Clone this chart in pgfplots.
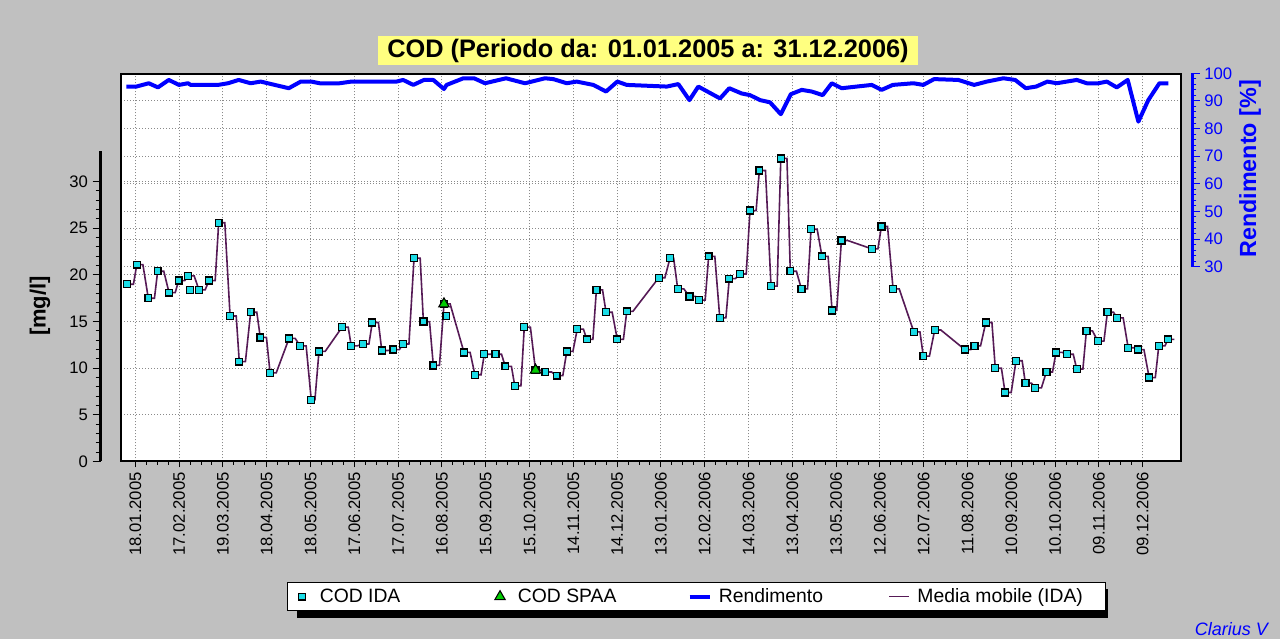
\documentclass[border=0pt]{standalone}
\usepackage{fontspec}
\setmainfont{Liberation Sans}
\usepackage{pgfplots}
\usepackage{pgfplotstable}
\pgfplotsset{compat=1.18}
\definecolor{sfondo}{HTML}{C0C0C0}
\definecolor{giallo}{HTML}{FFFF80}
\definecolor{ciano}{HTML}{1ADCE6}
\definecolor{verde}{HTML}{00CC00}
\definecolor{viola}{HTML}{561A56}
\definecolor{blu}{HTML}{0000FF}
\definecolor{griglia}{HTML}{8A8A8A}

\pgfplotsset{
  img marca/.style={legend image code/.code={\path (0pt,0pt) (15pt,0pt); \draw[##1] plot coordinates {(7.5pt,0pt)};}},
  img linea/.style={legend image code/.code={\draw[##1] (0pt,0pt) -- (15pt,0pt);}},
}

% giorni dal 01.01.2005, COD in mg/l
\pgfplotstableread{
d v
11.5 19.0
18.0 21.1
25.9 17.5
32.3 20.4
40.1 18.1
46.7 19.4
53.1 19.9
54.3 18.4
60.6 18.4
67.5 19.4
74.1 25.6
81.9 15.6
88.2 10.7
96.0 16.0
102.6 13.3
109.3 9.5
122.3 13.2
129.8 12.4
137.5 6.6
142.8 11.8
158.6 14.4
164.9 12.4
172.8 12.6
179.3 14.9
185.8 11.9
193.7 12.0
200.2 12.6
207.9 21.8
214.3 15.0
221.1 10.3
228.4 16.9
230.0 15.6
242.1 11.7
249.6 9.3
256.0 11.5
263.6 11.5
270.4 10.2
276.9 8.1
283.4 14.4
291.1 9.8
297.8 9.6
305.6 9.2
312.5 11.8
319.7 14.2
326.2 13.1
332.8 18.4
339.4 16.0
347.1 13.1
353.6 16.1
375.5 19.7
383.2 21.8
388.5 18.5
396.5 17.7
403.1 17.3
409.7 22.0
417.3 15.4
423.8 19.6
431.2 20.1
438.0 26.9
444.4 31.2
452.4 18.8
459.1 32.5
465.6 20.4
473.2 18.5
479.8 24.9
487.3 22.0
494.2 16.2
500.6 23.7
521.4 22.8
528.0 25.2
536.0 18.5
550.2 13.9
556.7 11.3
564.5 14.1
585.1 12.0
591.7 12.4
599.5 14.9
606.0 10.0
612.7 7.4
620.2 10.8
626.6 8.4
633.4 7.9
641.0 9.6
647.6 11.7
655.2 11.5
661.8 9.9
668.4 14.0
676.2 12.9
682.8 16.0
689.4 15.4
697.0 12.2
703.6 12.0
711.4 9.0
718.0 12.4
724.4 13.1
}\codida

\pgfplotstableread{
d v
228.4 16.9
291.1 9.8
}\codspaa

\pgfplotstableread{
d v
11.5 19.0
15.7 19.0
18.0 21.1
22.2 21.1
25.9 17.5
30.1 17.5
32.3 20.4
36.5 20.4
40.1 18.1
44.3 18.1
46.7 19.4
50.9 19.4
53.1 19.9
57.3 19.9
60.6 18.4
64.8 18.4
67.5 19.4
71.7 19.4
74.1 25.6
78.3 25.6
81.9 15.6
86.1 15.6
88.2 10.7
92.4 10.7
96.0 16.0
100.2 16.0
102.6 13.3
106.8 13.3
109.3 9.5
113.5 9.5
122.3 13.2
126.5 13.2
129.8 12.4
134.0 12.4
137.5 6.6
140.0 6.6
142.8 11.8
147.0 11.8
158.6 14.4
162.8 14.4
164.9 12.4
169.1 12.4
172.8 12.6
177.0 12.6
179.3 14.9
183.5 14.9
185.8 11.9
190.0 11.9
193.7 12.0
197.9 12.0
200.2 12.6
204.4 12.6
207.9 21.8
212.1 21.8
214.3 15.0
218.5 15.0
221.1 10.3
225.3 10.3
228.4 16.9
232.6 16.9
242.1 11.7
246.3 11.7
249.6 9.3
253.8 9.3
256.0 11.5
260.2 11.5
263.6 11.5
267.8 11.5
270.4 10.2
274.6 10.2
276.9 8.1
281.1 8.1
283.4 14.4
287.6 14.4
291.1 9.8
295.3 9.8
297.8 9.6
302.0 9.6
305.6 9.2
309.8 9.2
312.5 11.8
316.7 11.8
319.7 14.2
323.9 14.2
326.2 13.1
330.4 13.1
332.8 18.4
337.0 18.4
339.4 16.0
343.6 16.0
347.1 13.1
351.3 13.1
353.6 16.1
357.8 16.1
375.5 19.7
379.7 19.7
383.2 21.8
385.7 21.8
388.5 18.5
392.7 18.5
396.5 17.7
400.7 17.7
403.1 17.3
407.3 17.3
409.7 22.0
413.9 22.0
417.3 15.4
421.5 15.4
423.8 19.6
428.0 19.6
431.2 20.1
435.4 20.1
438.0 26.9
442.2 26.9
444.4 31.2
448.6 31.2
452.4 18.8
456.6 18.8
459.1 32.5
463.3 32.5
465.6 20.4
469.8 20.4
473.2 18.5
477.4 18.5
479.8 24.9
484.0 24.9
487.3 22.0
491.5 22.0
494.2 16.2
497.4 16.2
500.6 23.7
504.8 23.7
521.4 22.8
525.6 22.8
528.0 25.2
532.2 25.2
536.0 18.5
540.2 18.5
550.2 13.9
554.4 13.9
556.7 11.3
560.9 11.3
564.5 14.1
568.7 14.1
585.1 12.0
589.3 12.0
591.7 12.4
595.9 12.4
599.5 14.9
603.7 14.9
606.0 10.0
610.2 10.0
612.7 7.4
616.9 7.4
620.2 10.8
624.4 10.8
626.6 8.4
630.8 8.4
633.4 7.9
637.6 7.9
641.0 9.6
645.2 9.6
647.6 11.7
651.8 11.7
655.2 11.5
659.4 11.5
661.8 9.9
666.0 9.9
668.4 14.0
672.6 14.0
676.2 12.9
680.4 12.9
682.8 16.0
687.0 16.0
689.4 15.4
693.6 15.4
697.0 12.2
701.2 12.2
703.6 12.0
707.8 12.0
711.4 9.0
715.6 9.0
718.0 12.4
722.2 12.4
724.4 13.1
728.6 13.1
}\mediamobile

% rendimento in %
\pgfplotstableread{
d r
10.8 95.2
17.7 95.2
26.2 96.4
32.5 94.9
39.9 97.6
46.9 95.8
53.1 96.4
54.9 95.8
73.6 95.8
80.5 96.4
87.8 97.6
96.0 96.4
102.9 97.0
112.5 95.8
122.1 94.6
130.3 97.0
137.5 97.0
143.3 96.4
157.0 96.4
164.9 97.0
195.8 97.0
200.4 97.6
207.4 95.8
214.7 97.6
221.1 97.6
228.4 94.3
230.2 95.8
241.7 98.2
249.0 98.2
256.5 96.4
270.9 98.2
283.9 96.4
297.6 98.2
303.3 97.9
312.5 96.4
319.3 97.0
330.7 95.8
339.4 93.4
347.1 97.0
353.6 95.8
381.0 95.2
388.9 96.1
396.5 90.3
402.6 95.2
417.5 90.9
423.8 94.6
432.3 92.7
438.0 92.1
444.9 90.3
451.7 89.5
459.1 85.2
465.9 92.4
473.4 94.0
480.3 93.4
487.8 92.1
494.0 96.4
500.8 94.6
521.4 95.8
528.2 94.0
535.8 95.8
549.9 96.4
556.7 95.8
564.1 97.9
580.7 97.6
591.5 95.8
600.2 97.0
611.5 98.2
619.6 97.6
626.9 94.6
634.0 95.2
641.7 97.0
648.1 96.4
661.8 97.6
668.6 96.4
676.6 96.4
682.4 97.0
689.2 94.9
696.7 97.6
704.0 82.5
710.8 90.3
718.4 96.4
724.5 96.4
}\rendimento

\begin{document}
\begin{tikzpicture}
\begin{scope}
\clip (0,0) rectangle (960pt,479.25pt);
\fill[sfondo] (0,0) rectangle (960pt,479.25pt);
% ombra della legenda
\fill[black] (222.5pt,15.9pt) rectangle (831.3pt,37.8pt);

% asse del rendimento (griglia + linea blu)
\begin{axis}[
  at={(90.98pt,133.13pt)}, anchor=south west,
  scale only axis, width=794.55pt, height=290.85pt,
  xmin=7.4, xmax=733, ymin=-40.5, ymax=99.86,
  axis background/.style={fill=white},
  axis line style={draw=none},
  xtick={17,47,...,707}, ytick={30,40,...,90},
  xticklabels={}, yticklabels={},
  tick style={draw=none},
  xmajorgrids, ymajorgrids,
  grid style={griglia, line width=0.75pt, dash pattern=on 0.75pt off 1.5pt},
]
\addplot[blu, line width=3pt, line join=round] table[x=d,y=r]{\rendimento};
\end{axis}

% asse principale COD
\begin{axis}[
  at={(90.98pt,133.13pt)}, anchor=south west,
  scale only axis, width=794.55pt, height=290.85pt,
  xmin=7.4, xmax=733, ymin=0, ymax=41.58,
  axis line style={black, line width=1.5pt},
  xtick={17,47,...,707},
  xticklabels={18.01.2005,17.02.2005,19.03.2005,18.04.2005,18.05.2005,17.06.2005,17.07.2005,16.08.2005,15.09.2005,15.10.2005,14.11.2005,14.12.2005,13.01.2006,12.02.2006,14.03.2006,13.04.2006,13.05.2006,12.06.2006,12.07.2006,11.08.2006,10.09.2006,10.10.2006,09.11.2006,09.12.2006},
  minor x tick num=3,
  xtick pos=left, tick align=outside,
  xtick style={black, line width=0.75pt},
  major tick length=4.5pt, minor tick length=2.5pt,
  xticklabel style={rotate=90, anchor=east, font=\fontsize{12.5pt}{14pt}\selectfont},
  ytick={5,10,...,30}, yticklabels={}, ytick style={draw=none},
  ymajorgrids,
  grid style={griglia, line width=0.75pt, dash pattern=on 0.75pt off 1.5pt},
  legend columns=4,
  legend cell align=left,
  legend style={at={(axis description cs:0.543,-0.3486)}, anchor=center,
    draw=black, line width=0.9pt, fill=white,
    font=\fontsize{14.5pt}{16pt}\selectfont,
    inner xsep=3pt, inner ysep=3pt,
    nodes={inner sep=0pt, text height=12pt, text depth=3pt},
    /tikz/every odd column/.append style={column sep=5.5pt},
    /tikz/every even column/.append style={column sep=0pt}},
]
\addlegendimage{only marks, mark=square*, mark size=2.6pt, mark options={fill=ciano, draw=black, line width=1pt}, img marca}
\addlegendentry{\makebox[127.2pt][l]{COD IDA}}
\addlegendimage{only marks, mark=triangle*, mark size=4.5pt, mark options={fill=verde, draw=black, line width=0.8pt}, img marca}
\addlegendentry{\makebox[127.2pt][l]{COD SPAA}}
\addlegendimage{blu, line width=3pt, img linea}
\addlegendentry{\makebox[127.2pt][l]{Rendimento}}
\addlegendimage{viola, line width=1.2pt, img linea}
\addlegendentry{\makebox[138.3pt][l]{Media mobile (IDA)}}

\addplot[viola, line width=1.2pt, forget plot] table[x=d,y=v]{\mediamobile};
\addplot[only marks, mark=square*, mark size=2.6pt, mark options={fill=ciano, draw=black, line width=1pt}, forget plot] table[x=d,y=v]{\codida};
\addplot[only marks, mark=triangle*, mark size=4.5pt, mark options={fill=verde, draw=black, line width=0.8pt}, forget plot] table[x=d,y=v]{\codspaa};
\end{axis}

% scala sinistra mg/l
\begin{axis}[
  at={(75.375pt,133.125pt)}, anchor=south west,
  scale only axis, width=1pt, height=233.1pt,
  xmin=0, xmax=1, ymin=0, ymax=33.3,
  axis x line=none, axis y line*=left,
  y axis line style={black, line width=2.25pt, -},
  ytick={0,5,...,30}, minor y tick num=4, tick align=outside,
  major tick length=6pt, minor tick length=3.75pt,
  ytick style={black, line width=0.75pt},
  yticklabel style={font=\fontsize{12.5pt}{14pt}\selectfont},
  /pgf/number format/assume math mode=true,
]
\end{axis}

% scala destra rendimento
\begin{axis}[
  at={(894pt,279.225pt)}, anchor=south east,
  scale only axis, width=1pt, height=145.05pt,
  xmin=0, xmax=1, ymin=30, ymax=100,
  axis x line=none, axis y line*=right,
  y axis line style={blu, line width=2.25pt, -},
  ytick={30,40,...,100}, minor y tick num=4, tick align=outside,
  major tick length=5.75pt, minor tick length=3.25pt,
  ytick style={blu, line width=0.75pt},
  yticklabel style={blu, font=\fontsize{12.5pt}{14pt}\selectfont},
  /pgf/number format/assume math mode=true,
]
\end{axis}

\node[rotate=90, font=\bfseries\fontsize{16.5pt}{18pt}\selectfont] at (30pt,249.75pt) {[mg/l]};
\node[rotate=90, text=blu, font=\bfseries\fontsize{17.5pt}{19pt}\selectfont] at (937.5pt,352.5pt) {Rendimento [\%]};
\node[fill=giallo, minimum width=405pt, minimum height=21.75pt, inner sep=0pt,
  font=\bfseries\fontsize{19pt}{21pt}\selectfont] at (486pt,441.4pt) {COD (Periodo da: 01.01.2005 a: 31.12.2006)};
\node[anchor=base west, text=blu, inner sep=0pt, font=\itshape\fontsize{13.5pt}{15pt}\selectfont] at (896pt,3pt) {Clarius V};
\end{scope}
\pgfresetboundingbox
\useasboundingbox (0,0) rectangle (960pt,479.25pt);
\end{tikzpicture}
\end{document}
